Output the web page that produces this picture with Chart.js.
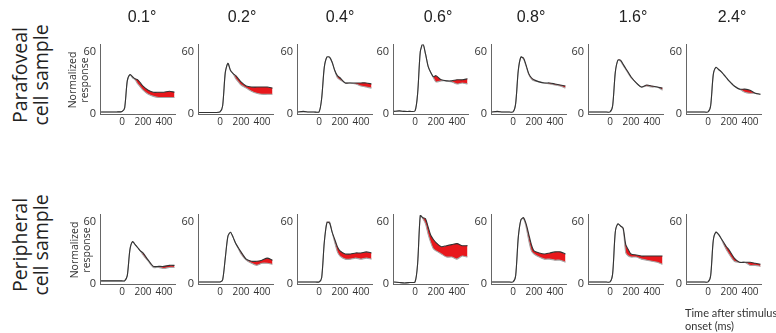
<!DOCTYPE html>
<html>
<head>
<meta charset="utf-8">
<script src="https://cdn.jsdelivr.net/npm/chart.js@4.4.0/dist/chart.umd.min.js"></script>
<style>
  body { margin: 0; width: 776px; height: 333px; background: #fff; position: relative; overflow: hidden; }
  canvas { position: absolute; }
  .lbl { position: absolute; color: #222; white-space: nowrap; }
  .title { font-family: "Liberation Sans", Arial, sans-serif; font-size: 16px; transform: translateX(-50%); }
  .rot { transform: translate(-50%, -50%) rotate(-90deg); text-align: center; }
  .row { font-family: "Open Sans", sans-serif; font-size: 19.5px; line-height: 21px; }
  .ylab { font-family: "Open Sans", sans-serif; font-size: 10.5px; line-height: 12px; color: #333; }
  .xlab { font-family: "Lato", sans-serif; font-size: 11px; line-height: 13px; color: #333; }
</style>
</head>
<body>
<script>
// time after stimulus onset (ms)
const timeMs = [-200, -150, -100, -50, 0, 25, 50, 75, 100, 125, 150, 175, 200, 250, 300, 350, 400, 450, 500];
const xTicks = [0, 200, 400];
const yTicks = [0, 60];
const eccentricities = ['0.1°', '0.2°', '0.4°', '0.6°', '0.8°', '1.6°', '2.4°'];

// parafoveal cell sample (black / gray curves)
const para01Black = [2, 2, 2, 2, 2.5, 6, 32, 38, 36, 34, 33, 30, 27, 23, 21, 21, 21, 22, 21];
const para01Gray  = [2, 2, 2, 2, 2.5, 6, 32, 38, 35, 33, 29, 26, 23, 19, 17, 16, 16, 16, 16];
const para02Black = [1.5, 1.5, 1.5, 1.5, 2, 8, 40, 49, 42, 39, 37, 34, 31, 27, 26, 26, 26, 26, 25];
const para02Gray  = [1.5, 1.5, 1.5, 1.5, 2, 8, 40, 49, 42, 39, 34, 31, 28, 25, 22, 20, 19, 19, 19];
const para04Black = [2, 2.5, 2, 2, 2, 15, 45, 55, 55, 50, 42, 37, 35, 30, 30, 30, 30, 30, 29];
const para04Gray  = [2, 2, 2, 2, 2, 15, 45, 55, 55, 50, 42, 35, 33, 30, 30, 29, 27, 26, 25];
const para06Black = [2.5, 3, 2.5, 2.5, 3, 20, 60, 68, 58, 46, 40, 36, 37, 33, 32, 32, 33, 33, 34];
const para06Gray  = [2.5, 3, 2.5, 2.5, 3, 20, 60, 68, 58, 46, 40, 35, 31, 32, 32, 31, 29, 30, 29];
const para08Black = [2, 2.5, 2, 2, 2, 10, 42, 55, 54, 47, 39, 35, 33, 31, 30, 30, 29, 28, 27];
const para08Gray  = [2, 2, 2, 2, 2, 10, 42, 55, 53, 46, 38, 34, 32, 31, 30, 29, 28, 27, 25];
const para16Black = [2, 2, 2, 2, 2, 8, 40, 52, 52, 48, 44, 40, 36, 30, 26, 28, 27, 26, 25];
const para16Gray  = [2, 2, 2, 2, 2, 8, 40, 52, 51, 47, 43, 39, 35, 30, 26, 27, 26, 26, 23];
const para24Black = [2, 2, 2, 2, 2, 8, 38, 45, 43, 41, 38, 35, 32, 27, 24, 24, 23, 20, 19];
const para24Gray  = [2, 2, 2, 2, 2, 8, 38, 45, 43, 41, 38, 35, 32, 27, 24, 21, 20, 20, 19];

// peripheral cell sample
const peri01Black = [3, 3, 3, 3, 3, 3, 8, 33, 41, 38, 35, 32, 30, 23, 17, 17, 17, 18, 18];
const peri01Gray  = [3, 3, 3, 3, 3, 3, 8, 33, 41, 38, 35, 32, 28, 22, 16, 16, 15, 16, 16];
const peri02Black = [2, 2, 2, 2, 2, 4, 25, 46, 50, 45, 39, 35, 31, 24, 22, 22, 23, 25, 23];
const peri02Gray  = [2, 2, 2, 2, 2, 4, 25, 46, 50, 45, 39, 34, 29, 23, 20, 18, 20, 20, 19];
const peri04Black = [2, 2, 2, 2, 2, 6, 40, 59, 59, 50, 43, 36, 32, 29, 29, 30, 30, 31, 30];
const peri04Gray  = [2, 2, 2, 2, 2, 6, 40, 60, 60, 50, 40, 31, 27, 24, 24, 25, 24, 25, 24];
const peri06Black = [2, 1.5, 1, 1.5, 2, 20, 66, 64, 63, 55, 47, 43, 40, 36, 37, 38, 39, 37, 37];
const peri06Gray  = [2, 1.5, 1, 1.5, 2, 20, 66, 63, 58, 48, 40, 34, 32, 29, 26, 26, 24, 27, 26];
const peri08Black = [2, 2, 2, 2, 2, 8, 45, 62, 64, 58, 48, 38, 32, 30, 29, 30, 31, 31, 29];
const peri08Gray  = [2, 2, 2, 2, 2, 8, 45, 62, 63, 55, 42, 32, 29, 26, 24, 24, 23, 23, 21];
const peri16Black = [2, 2, 2, 2, 2, 10, 50, 58, 56, 54, 38, 33, 29, 28, 27, 27, 27, 27, 27];
const peri16Gray  = [2, 2, 2, 2, 2, 10, 50, 58, 56, 53, 30, 27, 26, 26, 24, 23, 22, 21, 19];
const peri24Black = [2, 2, 2, 2, 2, 8, 42, 50, 48, 44, 40, 36, 33, 25, 21, 21, 21, 20, 19];
const peri24Gray  = [2, 2, 2, 2, 2, 8, 42, 50, 48, 44, 38, 33, 29, 22, 21, 21, 18, 18, 17];

const rows = [
  [[para01Black, para01Gray], [para02Black, para02Gray], [para04Black, para04Gray], [para06Black, para06Gray],
   [para08Black, para08Gray], [para16Black, para16Gray], [para24Black, para24Gray]],
  [[peri01Black, peri01Gray], [peri02Black, peri02Gray], [peri04Black, peri04Gray], [peri06Black, peri06Gray],
   [peri08Black, peri08Gray], [peri16Black, peri16Gray], [peri24Black, peri24Gray]]
];

// layout
const axisX = [100, 198, 297, 393, 491, 588, 686];
const plotW = 75, plotH = 74;
const plotTop = [40, 210];
const yAxisW = 28, xAxisH = 20, padTop = 6, padRight = 6;
const titleX = [142, 242, 340, 438, 531, 633, 732];

function addLabel(html, cls, left, top) {
  const d = document.createElement('div');
  d.className = 'lbl ' + cls;
  d.innerHTML = html;
  d.style.left = left + 'px';
  d.style.top = top + 'px';
  document.body.appendChild(d);
}

const pts = arr => arr.map((v, i) => ({ x: timeMs[i], y: v }));

rows.forEach((row, r) => {
  row.forEach(([black, gray], c) => {
    const cv = document.createElement('canvas');
    cv.width = yAxisW + plotW + padRight;
    cv.height = padTop + plotH + xAxisH;
    cv.style.left = (axisX[c] - yAxisW) + 'px';
    cv.style.top = (plotTop[r] - padTop) + 'px';
    document.body.appendChild(cv);

    new Chart(cv.getContext('2d'), {
      type: 'line',
      data: {
        datasets: [
          { data: pts(black), borderColor: '#333', borderWidth: 1.1, pointRadius: 0, tension: 0.25,
            fill: '+1', backgroundColor: '#e8171c' },
          { data: pts(gray), borderColor: '#a6a6a6', borderWidth: 1.1, pointRadius: 0, tension: 0.25,
            fill: false }
        ]
      },
      options: {
        responsive: false,
        animation: false,
        layout: { padding: { left: 0, right: padRight, top: padTop, bottom: 0 } },
        plugins: { legend: { display: false }, tooltip: { enabled: false }, filler: { drawTime: 'beforeDatasetsDraw' } },
        scales: {
          x: {
            type: 'linear', min: -210, max: 505,
            grid: { display: false, drawTicks: false },
            border: { display: true, color: '#666', width: 1 },
            ticks: { color: '#333', font: { family: 'Open Sans', size: 10 }, padding: 2, maxRotation: 0 },
            afterBuildTicks: s => { s.ticks = xTicks.map(v => ({ value: v })); },
            afterFit: s => { s.height = xAxisH; }
          },
          y: {
            min: 0, max: 67,
            grid: { display: false, drawTicks: false },
            border: { display: true, color: '#666', width: 1 },
            ticks: { color: '#333', font: { family: 'Open Sans', size: 11 }, padding: 4 },
            afterBuildTicks: s => { s.ticks = yTicks.map(v => ({ value: v })); },
            afterFit: s => { s.width = yAxisW; }
          }
        }
      }
    });
  });
});

eccentricities.forEach((t, c) => addLabel(t, 'title', titleX[c], 8));
addLabel('Parafoveal<br>cell sample', 'row rot', 30, 75);
addLabel('Peripheral<br>cell sample', 'row rot', 30, 245);
addLabel('Normalized<br>response', 'ylab rot', 78, 80);
addLabel('Normalized<br>response', 'ylab rot', 80, 250);
addLabel('Time after stimulus<br>onset (ms)', 'xlab', 685, 306);
</script>
</body>
</html>
